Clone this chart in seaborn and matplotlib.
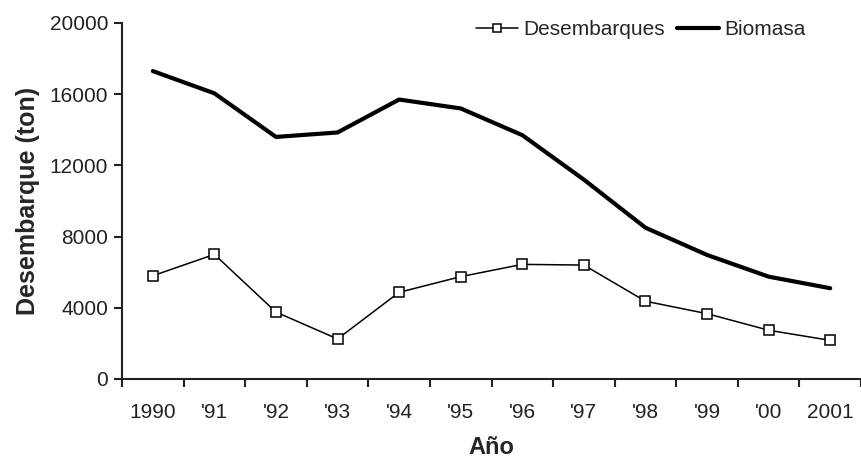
import matplotlib
matplotlib.use("Agg")
import matplotlib.pyplot as plt
import seaborn as sns
import pandas as pd
from matplotlib.ticker import FixedLocator

years = ["1990", "'91", "'92", "'93", "'94", "'95", "'96", "'97", "'98", "'99", "'00", "2001"]
desembarques = [5800, 7000, 3760, 2250, 4870, 5750, 6440, 6400, 4370, 3670, 2740, 2170]
biomasa = [17300, 16050, 13600, 13850, 15700, 15200, 13700, 11200, 8500, 6970, 5750, 5100]

sns.set_theme(style="white")
plt.rcParams['font.family'] = ['Liberation Sans', 'DejaVu Sans']

df = pd.DataFrame({"Año": years, "Desembarques": desembarques, "Biomasa": biomasa})

fig = plt.figure(figsize=(8.61, 4.58), dpi=100)
ax = fig.add_axes([122/861, 1 - 379/458, (861 - 122)/861, (379 - 23)/458])

sns.lineplot(data=df, x="Año", y="Desembarques", ax=ax, sort=False, color="black",
             linewidth=1.1, marker="s", markersize=7, markerfacecolor="white",
             markeredgecolor="black", markeredgewidth=1.1, label="Desembarques")
sns.lineplot(data=df, x="Año", y="Biomasa", ax=ax, sort=False, color="black",
             linewidth=3, label="Biomasa")

ax.set_xlim(-0.5, 11.5)
ax.set_ylim(0, 20000)
ax.set_yticks(range(0, 20001, 4000))
ax.set_xticks(range(len(years)))
ax.set_xticklabels(years)
ax.xaxis.set_minor_locator(FixedLocator([i - 0.5 for i in range(len(years) + 1)]))
ax.tick_params(axis="x", which="major", length=0, labelsize=15, pad=17, colors="#222222")
ax.tick_params(axis="x", which="minor", length=6, width=1.5, direction="out", color="#222222", bottom=True)
ax.tick_params(axis="y", length=6, width=1.5, direction="out", labelsize=15, pad=4, colors="#222222", left=True)
for s in ["top", "right"]:
    ax.spines[s].set_visible(False)
for s in ["left", "bottom"]:
    ax.spines[s].set_color("#222222")
    ax.spines[s].set_linewidth(1.5)

ax.set_xlabel("Año", fontsize=17, fontweight="bold", labelpad=10.5)
ax.set_ylabel("Desembarque (ton)", fontsize=18, fontweight="bold", labelpad=7)
ax.grid(False)

leg = ax.legend(loc="upper right", bbox_to_anchor=(814/861, 1 - 12/458), bbox_transform=fig.transFigure,
                ncol=2, frameon=False, fontsize=15, handlelength=2.0, handletextpad=0.25,
                columnspacing=0.6, borderaxespad=0)
for h in leg.legend_handles:
    h.set_markersize(6)

fig.savefig("out.png", dpi=100)
